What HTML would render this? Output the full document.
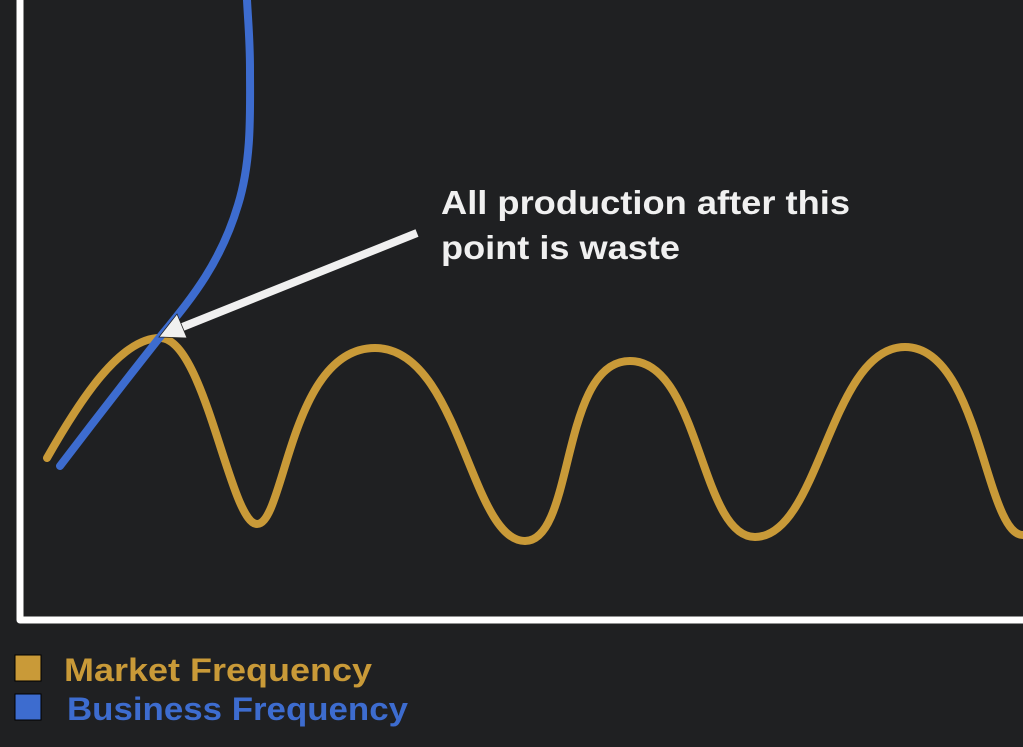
<!DOCTYPE html>
<html><head><style>
html,body{margin:0;padding:0;background:#1f2022;}
svg{display:block;}
</style></head><body>
<svg width="1023" height="747" viewBox="0 0 1023 747" xmlns="http://www.w3.org/2000/svg">
<rect width="1023" height="747" fill="#1f2022"/>
<path d="M20,0 L20,620 L1023,620" fill="none" stroke="#ffffff" stroke-width="7" stroke-linejoin="round"/>
<path d="M47,458 C80,400 120,338 160,338 C205,338 230,524 257,524 C285,524 290,348 375,348 C460,348 470,541 525,541 C575,541 560,361 630,361 C700,361 700,537 755,537 C820,537 830,347 905,347 C980,347 985,535 1023,535" fill="none" stroke="#c99a38" stroke-width="8" stroke-linecap="round"/>
<path d="M60,466 C95,420 130,375 160,337 C190,300 220,265 238,205 C252,160 250,110 250,70 C250,40 248,20 247,0" fill="none" stroke="#3d6ccf" stroke-width="8" stroke-linecap="round"/>
<line x1="417" y1="233" x2="180" y2="328" stroke="#f0f0f0" stroke-width="8"/>
<polygon points="159,337 177,314 187,338" fill="#f0f0f0" stroke="#222" stroke-width="0.8"/>
<g font-family="Liberation Sans, sans-serif" font-weight="bold" font-size="33">
<text x="441" y="214" fill="#f0f0f0" textLength="409" lengthAdjust="spacingAndGlyphs">All production after this</text>
<text x="441" y="259" fill="#f0f0f0" textLength="239" lengthAdjust="spacingAndGlyphs">point is waste</text>
<text x="64" y="681" fill="#c99a38" font-size="32" textLength="308" lengthAdjust="spacingAndGlyphs">Market Frequency</text>
<text x="67" y="720" fill="#3d6ccf" font-size="32" textLength="341" lengthAdjust="spacingAndGlyphs">Business Frequency</text>
</g>
<rect x="15" y="655" width="26" height="26" fill="#c99a38" stroke="#000" stroke-width="1"/>
<rect x="15" y="694" width="26" height="26" fill="#3d6ccf" stroke="#000" stroke-width="1"/>
</svg>
</body></html>
